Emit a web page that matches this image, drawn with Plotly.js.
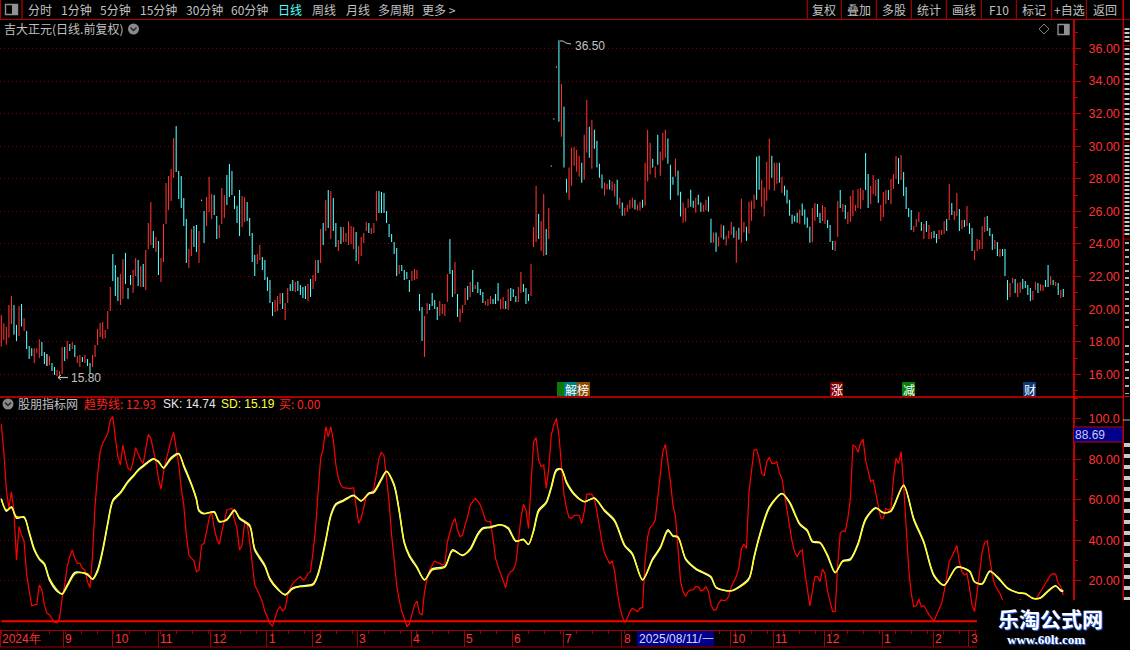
<!DOCTYPE html>
<html><head><meta charset="utf-8">
<script src="https://cdn.plot.ly/plotly-3.0.1.min.js"></script>
<style>html,body{margin:0;padding:0;background:#000;overflow:hidden}#c{width:1130px;height:650px}</style>
</head><body><div id="c"></div>
<script>
const highs=[19.64,19.13,18.91,20.26,20.81,20.26,19.03,20.19,20.32,19.46,18.66,17.74,17.60,17.60,17.60,18.15,17.98,17.37,17.25,17.13,
16.70,16.45,16.27,16.20,17.68,17.68,18.05,17.86,17.98,17.80,17.13,17.19,17.06,17.19,16.94,16.70,17.19,17.80,18.78,19.15,
19.21,18.72,19.89,21.36,23.39,22.71,21.97,22.16,23.08,23.45,21.30,22.10,22.40,23.14,23.02,22.65,22.77,23.63,25.29,26.58,
24.80,24.43,24.18,23.14,25.23,27.74,28.17,28.60,30.51,31.24,28.48,28.17,26.82,25.53,23.69,24.92,25.10,25.16,24.80,26.72,
26.03,26.89,28.11,27.07,27.01,25.72,25.17,27.44,27.01,28.24,28.91,28.48,26.95,26.34,27.31,26.95,26.89,26.58,25.60,24.68,
23.32,23.39,23.94,23.20,23.02,21.97,21.79,20.44,20.56,20.81,20.99,20.99,20.38,21.30,21.54,21.79,21.67,21.73,21.48,21.36,
21.42,21.54,21.85,22.10,23.02,23.02,24.92,25.29,26.70,27.31,27.25,26.82,25.29,24.25,25.04,25.04,24.67,25.39,25.10,25.04,
24.74,23.88,24.43,24.67,25.35,25.29,24.98,25.29,27.25,27.25,27.19,27.13,26.03,25.23,24.61,24.12,23.75,22.71,22.71,22.40,
22.28,21.79,22.34,22.47,22.40,20.93,20.13,19.58,20.38,20.32,20.99,20.56,20.13,20.50,20.32,20.32,22.16,24.31,22.40,22.90,
20.93,20.01,20.26,21.30,21.42,21.67,22.40,21.48,21.67,21.24,21.05,20.50,20.62,20.81,20.62,20.93,21.61,20.62,20.75,20.50,
21.24,21.30,21.24,20.81,21.36,22.28,21.54,21.30,20.93,22.77,25.04,27.56,25.84,25.41,27.07,24.92,26.21,28.82,31.70,34.89,
36.50,33.84,32.43,28.01,28.69,29.91,29.97,29.79,29.42,28.99,30.71,32.86,31.20,31.63,31.02,30.34,28.93,28.26,27.76,27.70,
27.95,27.83,27.70,27.95,26.84,26.54,26.23,26.41,26.72,26.84,26.72,26.41,26.60,26.72,28.99,31.02,30.22,29.24,28.75,30.71,
29.67,30.83,31.02,30.47,28.87,28.13,29.24,28.50,27.21,26.54,26.23,26.78,27.33,26.66,26.84,27.03,26.54,26.41,26.72,26.91,
25.55,24.70,24.70,24.45,25.19,25.13,24.51,24.82,25.37,25.06,24.82,25.00,26.78,25.37,25.06,26.60,26.66,27.03,29.36,29.42,
27.95,27.46,29.05,30.47,29.42,28.99,28.99,28.99,28.13,27.58,27.33,26.72,25.80,25.74,25.92,26.11,26.48,26.11,25.62,25.06,
26.21,26.52,26.46,25.90,26.39,26.27,25.47,25.17,24.18,24.18,26.64,27.31,26.46,26.39,25.96,26.95,27.31,26.39,27.38,27.44,
27.31,29.59,28.30,27.56,28.24,27.93,27.99,26.39,27.19,27.31,27.31,27.99,28.30,29.40,29.28,29.46,28.42,27.50,26.21,26.09,
25.10,25.53,25.96,25.35,25.23,25.41,25.17,24.74,24.80,24.61,24.86,24.86,25.41,25.53,27.68,26.52,26.03,27.13,26.15,25.47,
25.47,26.33,25.29,24.98,23.63,24.31,24.25,25.10,25.66,25.72,24.98,24.61,24.25,24.12,23.69,23.69,23.69,21.79,21.61,21.91,
21.85,21.61,21.67,21.85,21.73,21.48,21.30,21.12,21.67,21.61,21.54,21.48,21.79,22.71,22.04,21.79,21.67,21.61,21.18,21.24];
const lows=[17.70,18.11,17.82,18.25,19.09,18.43,18.05,18.35,18.93,18.66,17.55,16.94,17.13,16.70,17.29,17.00,17.13,16.63,16.51,16.55,
16.20,15.96,15.90,15.80,16.02,16.82,16.94,17.43,17.55,17.06,16.70,16.45,16.76,16.70,16.51,16.02,16.45,17.06,17.80,18.29,
18.17,18.23,18.78,19.89,21.73,20.81,20.50,20.26,20.62,21.54,20.62,21.48,20.99,22.04,21.42,21.36,21.36,21.18,23.69,23.94,
23.75,23.51,22.10,21.67,22.89,25.23,26.09,26.64,28.05,28.42,26.76,26.21,25.10,22.83,22.53,23.26,23.81,23.51,22.83,26.65,
24.06,25.10,25.96,25.53,25.78,24.31,24.37,25.23,25.60,26.40,26.89,27.01,26.15,25.29,24.49,25.04,25.35,25.41,24.49,22.90,
22.03,22.77,23.02,22.40,21.79,21.11,20.38,19.58,19.83,19.89,20.32,20.01,19.34,20.38,21.12,21.12,21.05,21.12,20.87,20.69,
20.62,20.50,20.75,21.24,21.73,22.22,22.83,23.94,24.80,24.98,24.31,24.80,23.82,23.57,24.00,24.12,24.12,23.94,24.00,23.69,
22.96,22.77,23.26,24.06,24.80,24.67,24.61,24.67,25.41,25.90,25.90,25.90,25.29,24.43,24.12,23.39,22.04,22.16,22.34,21.79,
21.85,21.05,21.73,21.79,21.85,19.89,18.05,17.06,19.70,19.95,20.19,20.01,19.34,19.58,19.70,19.58,20.44,22.16,20.75,20.93,
19.52,19.21,19.76,20.26,20.56,20.75,21.05,21.24,20.99,20.87,20.38,20.26,20.19,20.32,20.32,20.32,20.50,20.01,20.01,20.01,
19.95,20.50,20.75,20.44,20.44,20.99,21.05,20.32,20.50,20.81,23.82,24.12,24.31,23.57,23.26,23.32,24.31,28.76,31.64,34.83,
31.51,30.59,28.69,27.15,26.72,27.58,28.81,28.44,28.13,27.76,27.95,29.61,29.30,28.62,29.85,28.69,28.07,27.40,26.97,27.34,
27.34,27.27,26.91,26.41,26.17,25.74,25.74,25.98,26.17,26.23,26.11,26.05,26.05,26.23,26.35,27.83,28.26,28.69,28.07,28.87,
28.19,29.12,29.30,28.93,26.72,27.64,28.13,26.97,25.68,25.31,25.37,26.23,26.29,26.23,25.92,26.41,25.98,25.98,26.05,25.98,
24.08,24.08,23.53,23.84,24.39,24.27,23.90,24.33,24.57,24.39,22.85,24.27,24.08,24.70,24.20,24.63,25.43,26.17,26.72,27.33,
26.29,25.68,26.66,27.33,28.07,27.27,27.70,27.76,27.15,26.97,26.48,25.74,25.25,25.37,25.31,25.25,25.74,25.19,25.00,24.08,
24.12,25.41,25.66,25.29,25.41,25.23,24.98,24.12,23.63,23.57,24.43,26.21,25.96,25.53,25.23,25.35,25.72,26.03,26.21,26.15,
26.70,27.31,26.21,26.46,27.07,26.95,26.52,25.41,25.66,26.46,26.70,26.46,27.38,27.99,27.68,27.93,26.95,26.15,25.66,24.86,
24.74,25.04,25.35,24.80,24.31,24.74,24.31,24.31,24.37,24.06,24.31,24.55,24.61,24.80,25.47,25.78,25.47,25.72,24.80,24.92,
25.04,25.10,24.61,23.57,23.02,23.57,23.69,23.69,24.74,24.80,24.49,23.63,23.69,23.26,23.20,23.26,22.04,20.56,20.75,21.61,
20.99,20.75,20.99,21.24,21.30,20.87,20.50,20.56,21.18,20.99,21.12,21.12,21.36,21.36,21.48,21.48,21.42,20.87,20.69,20.75];
// 1 = up (red), -1 = down (cyan), 0 = flat (white)
const dirs=[1,1,1,1,1,-1,-1,1,-1,1,-1,-1,-1,1,1,1,-1,-1,0,1,
-1,-1,1,1,1,-1,1,-1,1,-1,1,1,-1,1,-1,-1,1,1,1,1,
1,1,1,1,-1,-1,-1,1,1,-1,-1,-1,1,1,-1,1,-1,1,1,1,
-1,1,-1,1,1,1,1,1,1,-1,-1,-1,-1,-1,1,1,-1,-1,1,0,
-1,1,1,1,-1,-1,1,1,1,-1,-1,-1,-1,-1,-1,1,1,-1,-1,-1,
-1,1,1,-1,-1,-1,-1,-1,1,1,1,-1,1,1,-1,-1,1,-1,-1,-1,
-1,1,-1,1,1,-1,1,-1,1,-1,1,-1,-1,1,-1,1,1,1,1,1,
-1,1,1,1,1,-1,1,1,1,-1,-1,-1,-1,-1,-1,-1,-1,1,-1,-1,
-1,-1,1,1,1,-1,-1,1,1,-1,-1,-1,-1,1,1,1,1,-1,-1,1,
-1,1,1,1,-1,1,-1,1,-1,-1,-1,1,1,1,-1,-1,-1,1,1,-1,
1,-1,-1,-1,1,1,-1,-1,-1,1,1,1,-1,1,1,-1,1,0,0,0,
-1,1,-1,-1,1,1,1,1,1,-1,1,1,-1,1,-1,-1,-1,-1,1,1,
-1,1,1,-1,1,-1,1,1,1,1,-1,1,1,-1,1,1,1,-1,1,-1,
1,1,1,-1,-1,-1,1,-1,-1,1,1,1,-1,-1,1,-1,-1,1,1,-1,
-1,1,-1,1,1,-1,1,1,1,-1,1,-1,1,1,-1,1,1,1,-1,-1,
1,1,1,1,-1,1,1,-1,1,-1,-1,-1,-1,-1,-1,1,-1,-1,-1,-1,
1,1,-1,-1,1,1,-1,-1,-1,1,1,-1,1,-1,1,1,1,1,1,1,
1,-1,-1,1,1,1,-1,1,1,1,-1,1,1,1,-1,1,-1,-1,-1,-1,
1,1,1,-1,1,-1,1,1,-1,-1,1,1,1,-1,1,-1,1,1,-1,1,
-1,1,-1,-1,1,1,1,1,1,-1,-1,-1,1,-1,1,-1,-1,-1,1,1,
-1,1,1,-1,-1,-1,-1,1,1,-1,1,1,-1,-1,1,-1,1,-1,1,-1];

const trendVal=[97.3,83.8,64.9,55.8,64.0,54.2,30.3,46.7,42.6,39.3,22.9,15.5,7.7,8.1,8.4,17.9,15.5,8.1,4.0,3.1,
1.5,-0.5,-0.8,1.5,11.4,17.9,27.0,31.9,35.2,31.1,28.6,28.6,26.2,25.3,19.6,16.6,32.8,57.4,72.3,83.8,
87.9,90.4,92.8,99.4,101.1,90.4,81.3,77.2,87.1,80.5,75.6,74.6,78.8,85.8,83.0,79.7,78.0,85.4,92.3,90.4,
84.6,78.8,70.6,65.3,73.9,79.7,84.6,89.5,93.3,85.4,77.2,65.7,57.4,42.6,32.8,31.1,30.0,24.5,25.3,37.7,
38.5,44.3,50.9,54.2,45.9,41.0,38.0,44.3,49.2,55.0,55.5,55.8,50.0,45.9,35.2,37.7,48.4,48.4,39.3,27.8,
17.9,15.5,13.0,9.7,4.8,1.5,-1.0,-2.5,1.5,5.6,7.2,5.1,6.4,13.0,16.3,18.8,20.1,20.9,22.1,20.4,
21.2,23.7,24.5,34.4,45.9,64.0,80.5,85.4,96.1,91.2,96.1,89.5,77.2,70.6,67.3,66.0,65.7,65.7,65.7,66.0,
56.6,48.4,50.9,56.6,61.6,62.7,63.7,65.7,73.9,80.5,83.5,81.8,70.6,59.1,42.6,29.5,17.9,10.5,4.8,1.5,
-2.5,-1.5,3.1,8.1,10.0,4.0,3.1,14.7,21.2,25.3,27.8,29.8,29.0,28.6,27.8,28.6,39.3,44.3,48.4,50.9,
45.1,41.8,42.6,47.6,51.7,57.4,59.4,60.7,59.4,57.4,54.2,49.9,49.2,49.2,41.0,31.1,27.0,23.7,20.4,16.6,
22.9,24.5,25.3,28.6,39.3,50.9,57.8,55.0,45.9,68.1,88.7,90.7,79.7,76.4,77.2,65.7,75.6,92.0,97.0,100.2,
92.0,77.2,62.4,55.8,51.2,50.9,52.2,52.5,52.2,48.4,54.2,62.7,62.9,62.7,60.7,54.2,45.9,39.3,33.6,31.1,
28.6,29.8,24.5,14.7,7.2,2.3,-0.5,1.5,4.8,6.4,5.6,4.8,6.4,6.9,29.5,41.8,46.3,47.6,50.0,60.7,
72.3,83.8,87.4,78.8,69.0,57.4,51.7,36.0,19.6,14.7,12.2,14.7,15.5,15.5,17.1,17.1,15.0,15.5,17.1,14.7,
8.1,5.6,5.6,8.9,10.5,10.2,10.5,12.2,17.1,19.6,22.1,26.2,36.0,38.0,36.0,64.0,73.9,84.6,84.9,80.5,
73.1,71.8,78.8,81.0,78.0,78.0,78.8,73.1,70.6,62.4,55.8,45.9,39.3,34.4,31.9,34.4,35.2,24.5,14.7,7.6,
14.7,22.1,22.1,19.6,25.8,23.7,14.7,9.7,4.8,4.8,27.8,43.5,44.6,44.3,50.9,60.7,87.1,86.3,83.5,87.9,
90.0,79.7,74.7,69.0,69.8,64.0,56.6,50.9,50.9,55.8,55.0,55.8,70.6,80.5,78.0,83.8,67.3,45.9,26.2,13.8,
7.2,7.7,11.0,7.2,7.7,5.6,3.1,1.8,0.2,3.1,6.4,8.9,14.7,22.1,29.5,31.9,34.4,37.4,29.5,24.5,
22.9,23.7,16.3,8.1,4.8,14.7,22.9,34.4,39.0,39.7,31.1,22.9,17.9,15.5,13.8,10.5,8.5,7.4,6.2,6.6,
7.1,9.3,10.8,9.6,8.8,8.1,7.9,8.6,10.5,12.6,14.7,16.9,18.8,20.8,22.9,23.5,23.2,18.8,17.1,12.93].slice(0,420);

const smoothIdx=[0,2,4,6,9,11,13,15,17,19,22,24,26,29,31,34,36,38,40,42,44,47,50,52,54,56,60,62,64,67,70,72,75,77,78,80,84,86,89,92,94,98,100,104,106,109,112,115,118,123,125,128,130,132,135,139,142,145,147,150,152,155,157,159,161,164,167,170,175,178,182,185,188,190,193,197,200,203,206,208,210,212,215,217,219,221,223,226,230,234,238,242,246,249,253,257,260,263,265,267,270,274,280,282,288,291,295,297,299,303,308,311,315,318,320,323,326,329,332,335,338,341,345,348,351,356,360,364,368,372,377,382,384,387,390,393,397,401,404,407,410,413,416,418,419];
const sdVal=[60.2,55,56.1,51.7,51.2,44.3,36,31.1,28.6,21.2,15.5,13.3,17.1,23.4,24,23.4,20.7,24.5,34.4,47.6,59.1,63.2,68.6,71.4,74.4,76.4,80,79.2,75.6,80.2,82.6,77.2,68.1,60.7,55,53.3,53.8,49.5,50,54.6,51.2,47.6,36,27.8,21.2,16.3,13,16,17.1,17.9,22.9,39.3,51.7,57.4,59.4,62,59.6,62.9,63.5,69.8,73.9,67.7,55,39.3,32.8,27,20.4,25.3,26.7,34.7,32.8,35.2,42.6,45.6,46.3,47.6,46.3,39.8,40.2,38,44.3,54.2,58.3,65.7,74.2,75.2,69,63.2,59.1,60.7,55,50,37.7,33.6,20.4,30.3,36,44.6,42.3,41.8,31.1,26.2,22.1,16.8,15,16.6,20.7,31.1,41,55.8,62.9,59.1,48.4,45.1,39.7,39,32.8,24.2,29.5,30.3,37.7,50,55.8,53.8,54.2,67,50.9,39.3,22.9,17.9,26.5,25,19.6,18.3,24.5,22.1,16.6,14.2,13.8,11.4,11.4,14.7,17.4,15.5,15.19];
const skVal=[60.6,54.4,56.6,51,51.6,43.6,35.2,30.6,28,20.5,14.9,13.6,17.9,24.1,24.2,23,20.9,25.4,35.4,48.6,59.8,63.8,69.2,71.9,74.9,76.9,80.3,78.7,75.9,80.9,82.9,76.5,67.4,60,54.5,53.1,54.1,49.2,50.4,55,50.7,47,35.2,27.1,20.6,15.8,13.2,16.5,17.4,18.5,23.7,40.2,52.5,58,59.8,62.3,59.4,63.3,64.1,70.5,74.1,67,54.2,38.6,32.1,26.4,20.5,25.9,27.2,35.3,32.5,35.8,43.3,46.1,46.6,47.7,45.7,39.5,40.5,37.9,45,55,58.9,66.5,75,75.1,68.4,62.7,59.1,60.9,54.5,49.4,37.1,33,20.5,30.9,36.6,45.2,42.1,41.4,30.6,25.8,21.7,16.6,15.1,17,21.3,31.9,41.8,56.5,63.1,58.5,47.9,44.6,39.2,38.7,32.2,24,29.9,30.8,38.4,50.7,56.1,53.6,54.6,67.2,50.2,38.7,22.3,17.8,26.9,24.6,19.4,18.6,24.9,21.7,16.3,14.1,13.6,11.3,11.6,15.1,17.6,15.1,14.74];
const buyVal=trendVal.map(()=>0);

const monthIdx=[-0.5,24.5,44,62,82.6,104.7,122.9,140.5,161.8,182.7,201.6,221.7,244.7,287.6,304.6,324.7,347.6,367.7,381.6];
const monthText=['2024年','9','10','11','12','1','2','3','4','5','6','7','8','10','11','12','1','2','3'];
const priceTicks=[16,18,20,22,24,26,28,30,32,34,36];
const priceTickText=['16.00','18.00','20.00','22.00','24.00','26.00','28.00','30.00','32.00','34.00','36.00'];
const indTicks=[20,40,60,80,100];
const indTickText=['20.00','40.00','60.00','80.00','100.0'];
const leftTabs=[['分时',39.5],['1分钟',76.5],['5分钟',115.5],['15分钟',158.5],['30分钟',204],['60分钟',249.5],['周线',324],['月线',357.5],['多周期',396],['更多 >',439]];
const rightTabs=[['复权',824],['叠加',859],['多股',894],['统计',929],['画线',964],['F10',999],['标记',1034],['+自选',1069],['返回',1105]];
const rightSeps=[807.3,841.3,876.3,911.3,946.3,981.3,1016.3,1051.7,1086.3,1123.3];

const W=1130,H=650,RED='#ff3232',UP='#ff3232',DOWN='#54ffff',DARK='#a00000',AXIS='#c00000',GREY='#c0c0c0';
const CJK='"Noto Sans CJK SC","Liberation Sans",sans-serif', LAT='"Liberation Sans",Arial,sans-serif';
const px=x=>x/W, py=y=>1-y/H;
const idx=trendVal.map((_,i)=>i);
function bars(d,color,name){
  const s=idx.filter(i=>dirs[i]===d);
  return {type:'ohlc',name,x:s,high:s.map(i=>highs[i]),low:s.map(i=>lows[i]),
    open:s.map(i=>d<0?highs[i]:lows[i]),close:s.map(i=>d<0?lows[i]:highs[i]),
    tickwidth:0,xaxis:'x',yaxis:'y',hoverinfo:'skip',
    increasing:{line:{color,width:1.05}},decreasing:{line:{color,width:1.05}}};
}
const ind=(name,x,y,color,width,smooth)=>({type:'scatter',mode:'lines',name,x,y,xaxis:'x',yaxis:'y2',hoverinfo:'skip',
  line:smooth?{color,width,shape:'spline',smoothing:0.8}:{color,width,shape:'linear'}});
const traces=[bars(1,UP,'涨'),bars(-1,DOWN,'跌'),bars(0,'#ffffff','平'),
  ind('买',idx,buyVal,'#ff0000',2),
  ind('趋势线',idx,trendVal,'#ff0000',1.2),
  ind('SK',smoothIdx,skVal,'#ffffff',1.5,true),
  ind('SD',smoothIdx,sdVal,'#ffff00',1.3,true)];

const line=(x0,y0,x1,y1,color,width,dash)=>({type:'line',xref:'paper',yref:'paper',x0:px(x0),y0:py(y0),x1:px(x1),y1:py(y1),line:{color,width,dash:dash||'solid'},layer:'above'});
const rect=(x0,y0,x1,y1,fill,border,bw)=>({type:'rect',xref:'paper',yref:'paper',x0:px(x0),y0:py(y0),x1:px(x1),y1:py(y1),fillcolor:fill,line:{color:border||fill,width:bw===undefined?0:bw},layer:'above'});
const circle=(cx,cy,r,fill)=>({type:'circle',xref:'paper',yref:'paper',x0:px(cx-r),y0:py(cy-r),x1:px(cx+r),y1:py(cy+r),fillcolor:fill,line:{width:0},layer:'above'});
const pathS=(d,color,width)=>({type:'path',xref:'paper',yref:'paper',path:d,line:{color,width},layer:'above'});
const P=(x,y)=>px(x)+' '+py(y);
const chevron=(cx,cy)=>pathS('M '+P(cx-3,cy-1.5)+' L '+P(cx,cy+1.5)+' L '+P(cx+3,cy-1.5),'#222',1.4);

const shapes=[
  line(0,19.5,1130,19.5,'#b00000',1),
  line(0,397,1123,397,'#e00000',1.6),
  line(0,647,977,647,DARK,1),
  line(1123.3,0,1123.3,600,AXIS,1.4),
  line(1124,45.7,1130,45.7,AXIS,1),line(1124,142.3,1130,142.3,AXIS,1),line(1124,239,1130,239,AXIS,1),
  line(1123,396.5,1130,396.5,AXIS,1),line(1123,420,1130,420,'#b0b0b0',1),
  line(1127,28,1127,44,'#c8c8c8',5,'2px,2px'),line(1127,48,1127,140,'#c8c8c8',5,'2px,3px'),line(1127,145,1127,237,'#c8c8c8',5,'2px,2px'),
  line(1127,242,1127,330,'#b0b0b0',4,'2px,5px'),line(1127,345,1127,394,'#b0b0b0',4,'2px,6px'),
  line(1127,443,1127,600,'#c8c8c8',6,'4px,7px'),
  line(22,0,22,19,AXIS,1.2),line(0.5,0,0.5,19,AXIS,1),
  rect(5.5,4.5,17.5,14.5,'#000','#909090',1.4),rect(12,5,17,14,'#909090'),
  rect(1058,24.5,1069,34.5,'#000','#909090',1.4),rect(1064,25,1069,34,'#909090'),
  pathS('M '+P(1044,24)+' L '+P(1049,29)+' L '+P(1044,34)+' L '+P(1039,29)+' Z','#808080',1),
  circle(133.5,29,5.5,'#8a8a8a'),chevron(133.5,29),
  circle(8,404,5.5,'#8a8a8a'),chevron(8,404),
  rect(557,382,564,396,'#0a7a0a'),rect(564,382,577,396,'#008080'),rect(577,382,590,396,'#8a4a00'),
  rect(830,382,843,396,'#800000'),rect(902,382,915,396,'#088008'),rect(1023,382,1036,396,'#0a3a7a'),
  rect(1073.5,427,1123,442,'#00008b','#c00000',1),
  rect(637,631,714,646,'#00008b'),
  rect(977,600,1130,650,'#000000'),
  line(58,377.5,68,377.5,'#c0c0c0',1.2),line(58,377.5,61,375,'#c0c0c0',1),line(58,377.5,61,380,'#c0c0c0',1),
  pathS('M '+P(560,41)+' L '+P(563,41)+' L '+P(566,43)+' L '+P(571,44),'#c0c0c0',1),
  ...rightSeps.map(x=>line(x,0,x,19,AXIS,1))
];
const T=(text,x,y,color,size,anchor,extra)=>Object.assign({text,xref:'paper',yref:'paper',x:px(x),y:py(y),xanchor:anchor||'left',yanchor:'middle',showarrow:false,borderpad:0,
  font:{family:CJK,size:size||12,color:color||GREY}},extra||{});
const L=(text,x,y,color,size,anchor)=>{const a=T(text,x,y,color,size,anchor);a.font.family=LAT;return a;};
const annotations=[
  ...leftTabs.map(([t,x])=>T(t,x,9.5,GREY,12,'center')),
  T('日线',290,9.5,'#54ffff',12,'center'),
  ...rightTabs.map(([t,x])=>T(t,x,9.5,GREY,12,'center')),
  T('吉大正元(日线.前复权)',3,29,GREY,12),
  T('股朋指标网',17,404,GREY,12),
  T('趋势线: 12.93',83,404,'#ff2020',12),
  L('SK: 14.74',162,404,'#e8e8e8',12),
  L('SD: 15.19',220,404,'#ffff40',12),
  T('买: 0.00',278,404,'#ff2020',12),
  L('15.80',70,378,GREY,12),
  L('36.50',574,46,GREY,12),
  T('解',570.5,389,'#fff',12,'center'),T('榜',583.5,389,'#fff',12,'center'),
  T('涨',836.5,389,'#fff',12,'center'),T('减',908.5,389,'#fff',12,'center'),T('财',1029.5,389,'#fff',12,'center'),
  L('88.69',1074,434.5,'#c8c8ff',12),
  L('2025/08/11/一',638,638.5,'#d8d8ff',12),
  T('乐淘公式网',1050,618,'#ffffff',21,'center',{}),
  L('www.60lt.com',1046,639.5,'#ffffff',13,'center'),
  ...monthIdx.map((v,i)=>({text:monthText[i],xref:'x',yref:'paper',x:v,y:py(638.5),xanchor:'left',yanchor:'middle',xshift:1,showarrow:false,borderpad:0,font:{family:LAT,size:12,color:RED}}))
];
annotations.forEach(a=>{if(a.text==='乐淘公式网'||a.text==='www.60lt.com'){a.font.weight=700;a.font.shadow='1px 1px 1px #2a6cff';if(a.text!=='乐淘公式网')a.font.family='"Liberation Serif",serif';}});

const yCommon={side:'right',anchor:'x',showline:true,linecolor:AXIS,linewidth:2,ticks:'outside',tickcolor:AXIS,tickwidth:1,ticklen:6,
  tickmode:'array',showgrid:true,gridcolor:'#800000',gridwidth:1,griddash:'1px,3px',zeroline:false,
  tickfont:{family:LAT,size:12.5,color:RED},ticklabelstandoff:5,fixedrange:true};
const layout={width:W,height:H,margin:{l:0,r:0,t:0,b:0},paper_bgcolor:'#000',plot_bgcolor:'#000',showlegend:false,hovermode:false,
  xaxis:{domain:[0,1073/W],range:[-0.51,422.83],anchor:'y2',showgrid:false,zeroline:false,showline:true,linecolor:DARK,linewidth:1,
    tickmode:'array',tickvals:monthIdx,ticktext:monthIdx.map(()=>''),ticks:'outside',ticklen:16,tickcolor:DARK,tickwidth:1,
    minor:{ticks:'outside',ticklen:3,tickcolor:DARK,tickmode:'linear',tick0:0,dtick:6.3},rangeslider:{visible:false},fixedrange:true},
  yaxis:Object.assign({},yCommon,{domain:[py(397),py(20)],range:[14.607,37.75],tickvals:priceTicks,ticktext:priceTickText,
    minor:{ticks:'outside',ticklen:3,tickcolor:AXIS,tickmode:'linear',tick0:15,dtick:2}}),
  yaxis2:Object.assign({},yCommon,{domain:[py(630),py(397)],range:[-4.3,110.8],tickvals:indTicks,ticktext:indTickText,
    minor:{ticks:'outside',ticklen:3,tickcolor:AXIS,tickmode:'linear',tick0:10,dtick:20}}),
  shapes,annotations};
Plotly.newPlot('c',traces,layout,{staticPlot:true,displayModeBar:false});
</script></body></html>
